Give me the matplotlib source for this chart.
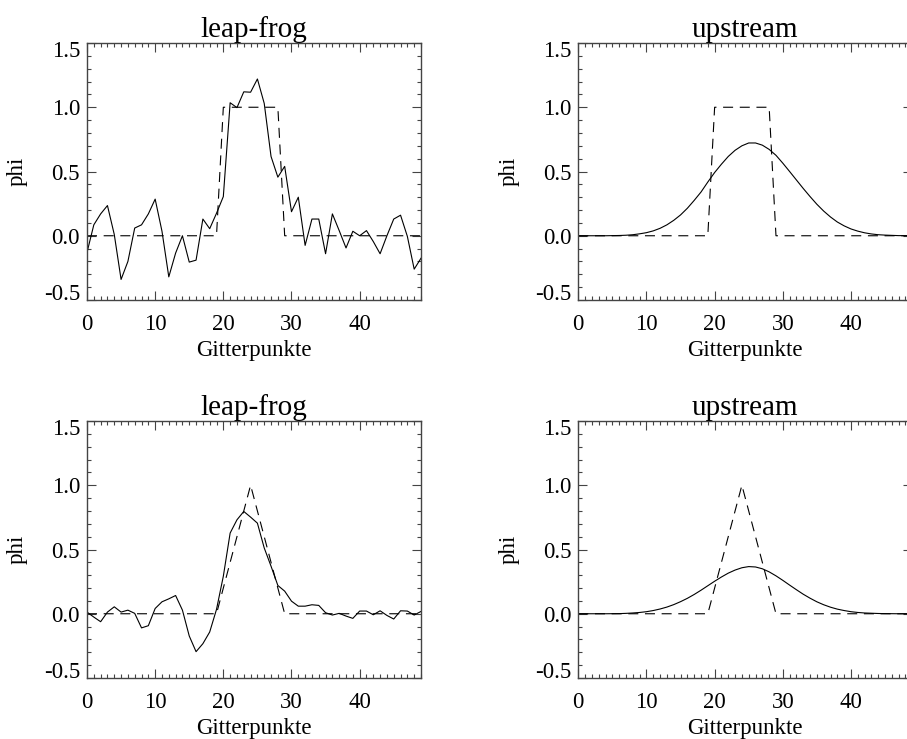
import matplotlib
matplotlib.use("Agg")
import matplotlib.pyplot as plt
from matplotlib.ticker import MultipleLocator, FuncFormatter

plt.rcParams['font.family'] = ['Liberation Serif', 'DejaVu Serif']

# Gitterpunkte 0..49
x = list(range(50))

# Anfangswerte: Rechteck (oben) und Dreieck (unten)
box_init = [0.0] * 20 + [1.0] * 9 + [0.0] * 21
tri_init = [0.0] * 20 + [0.2, 0.4, 0.6, 0.8, 1.0, 0.8, 0.6, 0.4, 0.2] + [0.0] * 21

leap_box = [
    -0.13, 0.085, 0.17, 0.235, 0.01, -0.34, -0.20, 0.06, 0.085, 0.17,
    0.285, 0.035, -0.32, -0.135, 0.0, -0.205, -0.19, 0.13, 0.055, 0.175,
    0.305, 1.035, 0.997, 1.12, 1.117, 1.22, 1.03, 0.617, 0.456, 0.54,
    0.187, 0.30, -0.075, 0.13, 0.13, -0.14, 0.17, 0.04, -0.095, 0.035,
    0.0, 0.04, -0.045, -0.14, 0.0, 0.13, 0.16, -0.005, -0.26, -0.175,
]

up_box = [
    0.0, 0.0, 0.0, 0.0, 0.0, 0.001, 0.002, 0.004, 0.008, 0.015,
    0.024, 0.038, 0.058, 0.085, 0.120, 0.162, 0.214, 0.275, 0.340, 0.418,
    0.492, 0.557, 0.617, 0.665, 0.700, 0.722, 0.722, 0.705, 0.672, 0.626,
    0.565, 0.500, 0.434, 0.368, 0.305, 0.245, 0.192, 0.146, 0.107, 0.077,
    0.053, 0.036, 0.023, 0.014, 0.008, 0.005, 0.003, 0.001, 0.001, 0.0,
]

leap_tri = [
    0.013, -0.026, -0.062, 0.013, 0.054, 0.013, 0.028, 0.003, -0.11, -0.093,
    0.041, 0.093, 0.116, 0.142, 0.028, -0.173, -0.295, -0.233, -0.142, 0.034,
    0.292, 0.628, 0.731, 0.796, 0.752, 0.705, 0.512, 0.37, 0.22, 0.176,
    0.098, 0.059, 0.059, 0.07, 0.065, 0.008, -0.01, 0.003, -0.018, -0.036,
    0.021, 0.021, -0.008, 0.023, -0.013, -0.041, 0.023, 0.021, -0.01, 0.018,
]

up_tri = [
    0.0, 0.0, 0.0, 0.0, 0.0, 0.0005, 0.001, 0.003, 0.006, 0.010,
    0.016, 0.025, 0.037, 0.052, 0.071, 0.094, 0.120, 0.150, 0.183, 0.218,
    0.253, 0.286, 0.316, 0.340, 0.358, 0.367, 0.364, 0.350, 0.326, 0.295,
    0.260, 0.223, 0.187, 0.152, 0.121, 0.093, 0.070, 0.051, 0.036, 0.025,
    0.016, 0.010, 0.006, 0.004, 0.002, 0.001, 0.0005, 0.0, 0.0, 0.0,
]

panels = [
    ('leap-frog', leap_box, box_init),
    ('upstream', up_box, box_init),
    ('leap-frog', leap_tri, tri_init),
    ('upstream', up_tri, tri_init),
]

W, H = 907, 739
fig = plt.figure(figsize=(W / 100, H / 100), dpi=100)

# Achsen in Pixeln: links, oben; Breite 334, Hoehe 257
lefts = [87, 578.3]
tops = [43, 421]
aw, ah = 334, 257
fs = 16.5
ymin, ymax = -0.5, 1.5


def ylab(v, pos):
    # Randbeschriftungen werden unten extra (nach innen versetzt) gesetzt
    if abs(v - ymin) < 1e-9 or abs(v - ymax) < 1e-9:
        return ''
    return '%.1f' % v


for i, (title, sol, init) in enumerate(panels):
    l = lefts[i % 2]
    t = tops[i // 2]
    ax = fig.add_axes([l / W, (H - t - ah) / H, aw / W, ah / H])
    ax.plot(x, init, color='black', lw=0.8, dashes=(9, 6))
    ax.plot(x, sol, color='black', lw=0.8)
    ax.set_xlim(0, 49)
    ax.set_ylim(ymin, ymax)
    ax.xaxis.set_major_locator(MultipleLocator(10))
    ax.xaxis.set_minor_locator(MultipleLocator(1))
    ax.yaxis.set_major_locator(MultipleLocator(0.5))
    ax.yaxis.set_minor_locator(MultipleLocator(0.1))
    ax.yaxis.set_major_formatter(FuncFormatter(ylab))
    ax.tick_params(which='both', direction='in', top=True, right=True,
                   width=0.8, color='#444444', labelsize=fs)
    ax.tick_params(which='major', length=6.5)
    ax.tick_params(which='minor', length=3)
    ax.tick_params(axis='x', which='major', pad=10)
    ax.tick_params(axis='y', which='major', pad=5)
    for s in ax.spines.values():
        s.set_linewidth(1.0)
        s.set_color('#444444')

    for v, dy in ((ymax, -6), (ymin, 4)):
        ax.annotate('%.1f' % v, xy=(0, v), xycoords=('axes fraction', 'data'),
                    xytext=(-5, dy), textcoords='offset points',
                    ha='right', va='center', fontsize=fs)

    ax.set_title(title, fontsize=21, pad=4)
    ax.set_xlabel('Gitterpunkte', fontsize=fs, labelpad=4)
    ax.set_ylabel('phi', fontsize=fs, labelpad=17)

fig.savefig('out.png', dpi=100)
